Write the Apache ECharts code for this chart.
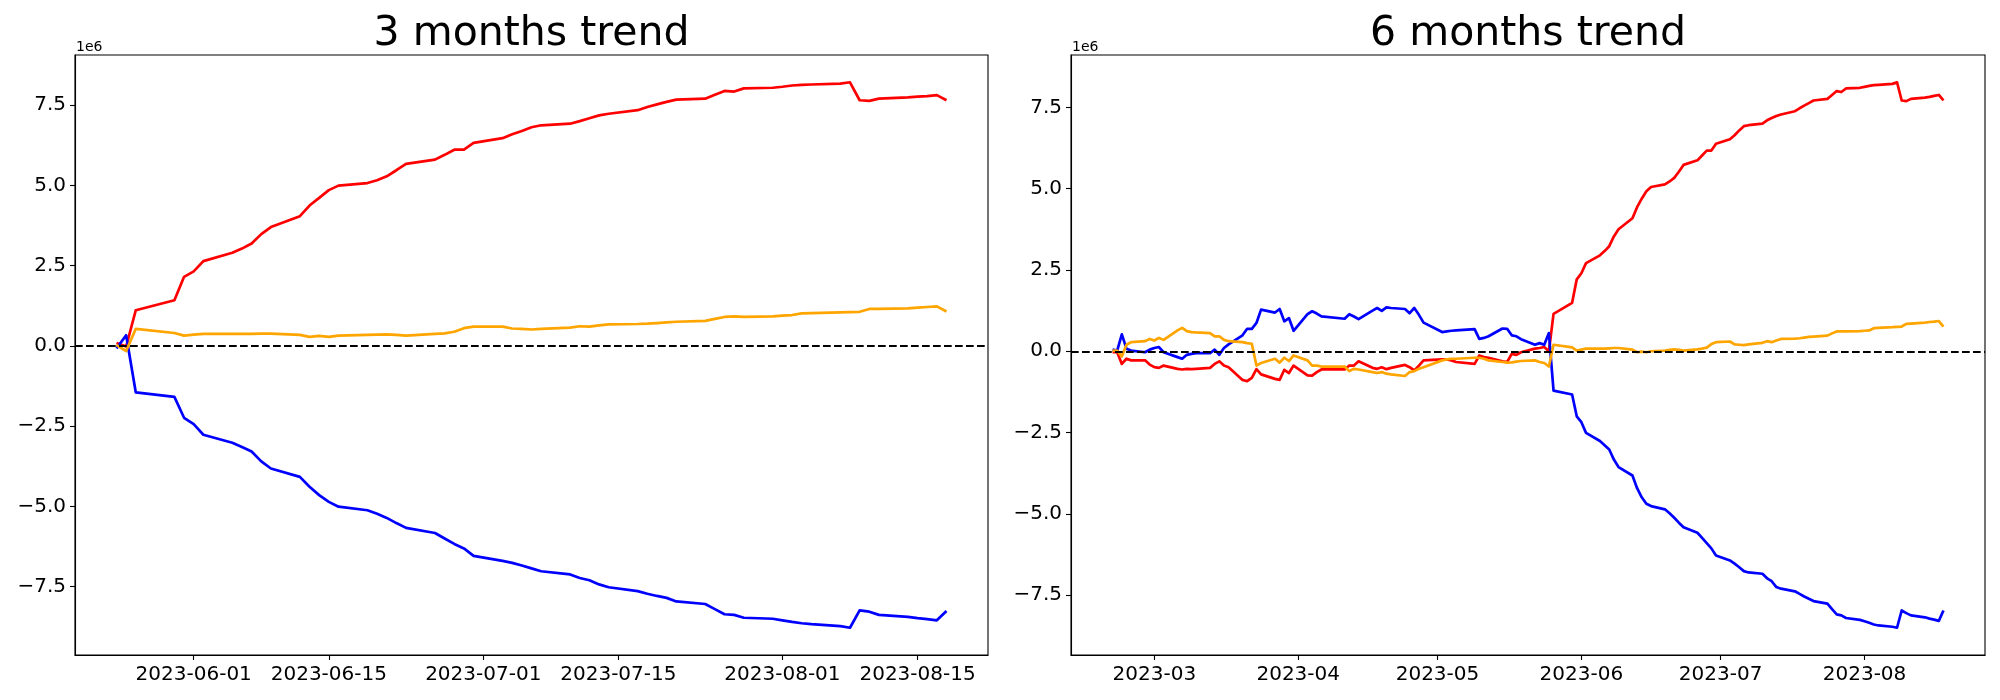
<!DOCTYPE html>
<html>
<head>
<meta charset="utf-8">
<script src="https://cdn.jsdelivr.net/npm/echarts@6/dist/echarts.min.js"></script>
<style>html,body{margin:0;padding:0;background:#fff}#c{width:2000px;height:700px}</style>
</head>
<body>
<div id="c"></div>
<script>
// ---------- DATA (values in units of 1e6) ----------
const dates3 = ['2023-05-24','2023-05-25','2023-05-26','2023-05-30','2023-05-31','2023-06-01','2023-06-02','2023-06-05','2023-06-06','2023-06-07','2023-06-08','2023-06-09','2023-06-12','2023-06-13','2023-06-14','2023-06-15','2023-06-16','2023-06-19','2023-06-20','2023-06-21','2023-06-22','2023-06-23','2023-06-26','2023-06-27','2023-06-28','2023-06-29','2023-06-30','2023-07-03','2023-07-04','2023-07-05','2023-07-06','2023-07-07','2023-07-10','2023-07-11','2023-07-12','2023-07-13','2023-07-14','2023-07-17','2023-07-18','2023-07-19','2023-07-20','2023-07-21','2023-07-24','2023-07-25','2023-07-26','2023-07-27','2023-07-28','2023-07-31','2023-08-01','2023-08-02','2023-08-03','2023-08-04','2023-08-07','2023-08-08','2023-08-09','2023-08-10','2023-08-11','2023-08-14','2023-08-15','2023-08-16','2023-08-17','2023-08-18'];
const red3 = [0.09,-0.02,1.11,1.42,2.15,2.32,2.64,2.90,3.03,3.19,3.48,3.70,4.04,4.37,4.61,4.85,4.99,5.07,5.16,5.28,5.47,5.67,5.80,5.95,6.11,6.11,6.32,6.47,6.59,6.69,6.81,6.87,6.92,7.00,7.09,7.18,7.23,7.34,7.44,7.52,7.60,7.67,7.70,7.82,7.94,7.92,8.02,8.04,8.07,8.11,8.13,8.14,8.17,8.21,7.65,7.63,7.70,7.74,7.76,7.78,7.81,7.65];
const blue3 = [-0.08,0.33,-1.45,-1.59,-2.24,-2.44,-2.77,-3.02,-3.15,-3.29,-3.60,-3.82,-4.08,-4.39,-4.65,-4.86,-5.01,-5.12,-5.23,-5.36,-5.52,-5.67,-5.83,-6.00,-6.17,-6.31,-6.54,-6.70,-6.76,-6.84,-6.93,-7.02,-7.12,-7.23,-7.30,-7.43,-7.52,-7.64,-7.72,-7.79,-7.85,-7.96,-8.04,-8.20,-8.36,-8.38,-8.47,-8.50,-8.55,-8.60,-8.64,-8.67,-8.73,-8.78,-8.24,-8.28,-8.38,-8.44,-8.48,-8.51,-8.55,-8.26];
const orange3 = [0.02,-0.16,0.53,0.40,0.32,0.35,0.37,0.37,0.37,0.37,0.38,0.38,0.34,0.28,0.31,0.28,0.32,0.34,0.35,0.36,0.34,0.32,0.37,0.39,0.44,0.55,0.60,0.60,0.54,0.53,0.51,0.53,0.57,0.61,0.60,0.64,0.67,0.68,0.69,0.71,0.73,0.75,0.78,0.84,0.90,0.92,0.90,0.92,0.94,0.96,1.01,1.02,1.04,1.05,1.06,1.15,1.15,1.17,1.19,1.21,1.23,1.07];

const dates6 = ['2023-02-20','2023-02-21','2023-02-22','2023-02-23','2023-02-24','2023-02-27','2023-02-28',
'2023-03-01','2023-03-02','2023-03-03','2023-03-06','2023-03-07','2023-03-08','2023-03-09','2023-03-10','2023-03-13','2023-03-14','2023-03-15','2023-03-16','2023-03-17','2023-03-20','2023-03-21','2023-03-22','2023-03-23','2023-03-24','2023-03-27','2023-03-28','2023-03-29','2023-03-30','2023-03-31',
'2023-04-03','2023-04-04','2023-04-05','2023-04-06','2023-04-11','2023-04-12','2023-04-13','2023-04-14','2023-04-17','2023-04-18','2023-04-19','2023-04-20','2023-04-21','2023-04-24','2023-04-25','2023-04-26','2023-04-27','2023-04-28',
'2023-05-02','2023-05-03','2023-05-04','2023-05-05','2023-05-09','2023-05-10','2023-05-11','2023-05-12','2023-05-15','2023-05-16','2023-05-17','2023-05-18','2023-05-19','2023-05-22','2023-05-23','2023-05-24','2023-05-25','2023-05-26',
'2023-05-30','2023-05-31','2023-06-01','2023-06-02','2023-06-05','2023-06-06','2023-06-07','2023-06-08','2023-06-09','2023-06-12','2023-06-13','2023-06-14','2023-06-15','2023-06-16','2023-06-19','2023-06-20','2023-06-21','2023-06-22','2023-06-23','2023-06-26','2023-06-27','2023-06-28','2023-06-29','2023-06-30','2023-07-03','2023-07-04','2023-07-05','2023-07-06','2023-07-07','2023-07-10','2023-07-11','2023-07-12','2023-07-13','2023-07-14','2023-07-17','2023-07-18','2023-07-19','2023-07-20','2023-07-21','2023-07-24','2023-07-25','2023-07-26','2023-07-27','2023-07-28','2023-07-31','2023-08-01','2023-08-02','2023-08-03','2023-08-04','2023-08-07','2023-08-08','2023-08-09','2023-08-10','2023-08-11','2023-08-14','2023-08-15','2023-08-16','2023-08-17','2023-08-18'];
const red6 = [-0.03,-0.03,-0.39,-0.23,-0.28,-0.28,-0.41,
-0.49,-0.51,-0.44,-0.54,-0.56,-0.54,-0.55,-0.54,-0.51,-0.39,-0.31,-0.44,-0.49,-0.88,-0.92,-0.82,-0.55,-0.71,-0.85,-0.88,-0.57,-0.67,-0.44,
-0.74,-0.75,-0.64,-0.56,-0.56,-0.44,-0.44,-0.31,-0.51,-0.54,-0.49,-0.55,-0.51,-0.42,-0.49,-0.59,-0.44,-0.28,
-0.25,-0.25,-0.28,-0.33,-0.39,-0.13,-0.18,-0.20,-0.31,-0.33,-0.08,-0.11,-0.03,0.08,0.10,0.13,0.00,1.15,
1.49,2.21,2.40,2.71,2.95,3.08,3.23,3.53,3.75,4.09,4.43,4.69,4.92,5.05,5.13,5.22,5.33,5.52,5.73,5.87,6.02,6.17,6.17,6.38,6.52,6.64,6.79,6.92,6.95,7.00,7.10,7.17,7.23,7.28,7.38,7.47,7.55,7.63,7.71,7.76,7.88,8.00,7.97,8.08,8.10,8.13,8.16,8.18,8.19,8.22,8.27,7.71,7.69,7.76,7.80,7.82,7.85,7.88,7.71];
const blue6 = [0.05,0.02,0.52,0.08,0.02,-0.03,0.05,
0.10,0.13,-0.03,-0.18,-0.23,-0.11,-0.08,-0.06,-0.06,0.05,-0.11,0.10,0.21,0.49,0.69,0.69,0.87,1.28,1.19,1.30,0.92,1.02,0.63,
1.14,1.23,1.16,1.07,1.00,1.14,1.07,0.99,1.25,1.33,1.24,1.35,1.33,1.30,1.17,1.33,1.12,0.88,
0.59,0.61,0.63,0.64,0.68,0.38,0.41,0.46,0.70,0.69,0.49,0.46,0.37,0.20,0.25,0.20,0.56,-1.21,
-1.33,-2.00,-2.18,-2.51,-2.76,-2.89,-3.02,-3.33,-3.56,-3.82,-4.21,-4.49,-4.69,-4.76,-4.86,-4.98,-5.12,-5.27,-5.41,-5.58,-5.74,-5.90,-6.06,-6.28,-6.43,-6.53,-6.64,-6.76,-6.80,-6.84,-6.98,-7.07,-7.25,-7.30,-7.38,-7.46,-7.54,-7.61,-7.68,-7.76,-7.93,-8.09,-8.12,-8.20,-8.26,-8.30,-8.35,-8.40,-8.43,-8.47,-8.50,-7.97,-8.05,-8.12,-8.18,-8.22,-8.25,-8.29,-7.97];
const orange6 = [0.02,0.02,-0.16,0.20,0.28,0.31,0.38,
0.33,0.41,0.35,0.64,0.72,0.62,0.59,0.58,0.56,0.46,0.46,0.35,0.31,0.28,0.25,0.23,-0.44,-0.36,-0.23,-0.35,-0.20,-0.30,-0.13,
-0.28,-0.44,-0.44,-0.47,-0.47,-0.61,-0.54,-0.56,-0.64,-0.67,-0.64,-0.69,-0.71,-0.76,-0.64,-0.61,-0.54,-0.49,
-0.28,-0.25,-0.23,-0.23,-0.20,-0.20,-0.23,-0.28,-0.33,-0.35,-0.34,-0.32,-0.30,-0.28,-0.33,-0.36,-0.47,0.20,
0.12,0.02,0.05,0.08,0.08,0.08,0.09,0.10,0.10,0.05,-0.03,-0.01,-0.03,0.00,0.02,0.04,0.06,0.04,0.02,0.06,0.08,0.11,0.22,0.28,0.30,0.21,0.20,0.19,0.21,0.26,0.31,0.28,0.33,0.38,0.39,0.40,0.42,0.44,0.45,0.48,0.55,0.61,0.61,0.61,0.62,0.63,0.64,0.71,0.72,0.74,0.75,0.76,0.84,0.85,0.88,0.90,0.91,0.93,0.76];

const titles = ['3 months trend', '6 months trend'];
const xTicks3 = ['2023-06-01','2023-06-15','2023-07-01','2023-07-15','2023-08-01','2023-08-15'];
const xTicks6 = ['2023-03-01','2023-04-01','2023-05-01','2023-06-01','2023-07-01','2023-08-01'];
const yTicks = [-7.5,-5.0,-2.5,0.0,2.5,5.0,7.5];
const offsetLabel = '1e6';

// ---------- helpers ----------
function ts(s){ const p = s.split('-').map(Number); return new Date(p[0], p[1]-1, p[2]).getTime(); }
function pad(n){ return (n<10?'0':'') + n; }
function fmtDay(v){ const d = new Date(v); return d.getFullYear()+'-'+pad(d.getMonth()+1)+'-'+pad(d.getDate()); }
function fmtMonth(v){ const d = new Date(v); return d.getFullYear()+'-'+pad(d.getMonth()+1); }
function fmtY(v){ const s = Math.abs(v).toFixed(1); return (v < -1e-9 ? '\u2212' : '') + s; }
function xRange(dates){ const a = ts(dates[0]), b = ts(dates[dates.length-1]); const m = 0.05*(b-a); return [a-m, b+m]; }
function yRange(){ let lo = Infinity, hi = -Infinity; for (const arr of arguments) for (const v of arr){ lo=Math.min(lo,v); hi=Math.max(hi,v);} const m = 0.05*(hi-lo); return [lo-m, hi+m]; }

const FONT = 'DejaVu Sans';
const xr3 = xRange(dates3), xr6 = xRange(dates6);
const yr3 = yRange(red3, blue3, orange3), yr6 = yRange(red6, blue6, orange6);

function mkX(gi, range, ticks, fmt){
  const vals = ticks.map(ts);
  return {
    type:'value', gridIndex: gi, min: range[0], max: range[1], scale:true,
    axisLine:{show:true, onZero:false, lineStyle:{color:'#000', width:1.1}},
    axisTick:{show:true, length:5, customValues: vals, lineStyle:{color:'#000', width:1.1}},
    axisLabel:{show:true, customValues: vals, formatter: fmt, color:'#000', fontSize:20, fontFamily:FONT, margin:10, hideOverlap:false, showMinLabel:true, showMaxLabel:true},
    splitLine:{show:false}, minorTick:{show:false}
  };
}
function mkY(gi, range){
  return {
    type:'value', gridIndex: gi, min: range[0], max: range[1],
    axisLine:{show:true, onZero:false, lineStyle:{color:'#000', width:1.1}},
    axisTick:{show:true, length:5, customValues: yTicks, lineStyle:{color:'#000', width:1.1}},
    axisLabel:{show:true, customValues: yTicks, formatter: fmtY, color:'#000', fontSize:20, fontFamily:FONT, margin:9},
    splitLine:{show:false}
  };
}
function mkLine(gi, dates, vals, color, withZero){
  const s = {
    type:'line', xAxisIndex: gi, yAxisIndex: gi,
    data: dates.map((d,i)=>[ts(d), vals[i]]),
    showSymbol:false, symbol:'none', silent:true,
    lineStyle:{color: color, width:2.7, join:'round', cap:'butt'},
    itemStyle:{color: color}
  };
  if (withZero){
    s.markLine = {
      silent:true, symbol:['none','none'], animation:false,
      label:{show:false},
      lineStyle:{color:'#000', type:[7.7,3.3], width:2.1},
      data:[{yAxis:0}]
    };
  }
  return s;
}

const chart = echarts.init(document.getElementById('c'), null, {renderer:'canvas'});
chart.setOption({
  animation:false,
  backgroundColor:'#fff',
  grid:[
    {left:75, top:55, width:913, height:600, show:true, borderColor:'#000', borderWidth:1.1, containLabel:false},
    {left:1071, top:55, width:914, height:600, show:true, borderColor:'#000', borderWidth:1.1, containLabel:false}
  ],
  xAxis:[ mkX(0, xr3, xTicks3, fmtDay), mkX(1, xr6, xTicks6, fmtMonth) ],
  yAxis:[ mkY(0, yr3), mkY(1, yr6) ],
  series:[
    mkLine(0, dates3, red3, '#ff0000', false),
    mkLine(0, dates3, blue3, '#0000ff', false),
    mkLine(0, dates3, orange3, '#ffa500', true),
    mkLine(1, dates6, red6, '#ff0000', false),
    mkLine(1, dates6, blue6, '#0000ff', false),
    mkLine(1, dates6, orange6, '#ffa500', true)
  ],
  graphic:[
    {type:'text', x:531.5, y:34.5, style:{text:titles[0], font:'41px "DejaVu Sans"', fill:'#000', textAlign:'center', textVerticalAlign:'middle'}},
    {type:'text', x:1528, y:34.5, style:{text:titles[1], font:'41px "DejaVu Sans"', fill:'#000', textAlign:'center', textVerticalAlign:'middle'}},
    {type:'text', x:76, y:47.5, style:{text:offsetLabel, font:'14px "DejaVu Sans"', fill:'#000', textAlign:'left', textVerticalAlign:'middle'}},
    {type:'text', x:1072, y:47.5, style:{text:offsetLabel, font:'14px "DejaVu Sans"', fill:'#000', textAlign:'left', textVerticalAlign:'middle'}}
  ]
});
</script>
</body>
</html>
